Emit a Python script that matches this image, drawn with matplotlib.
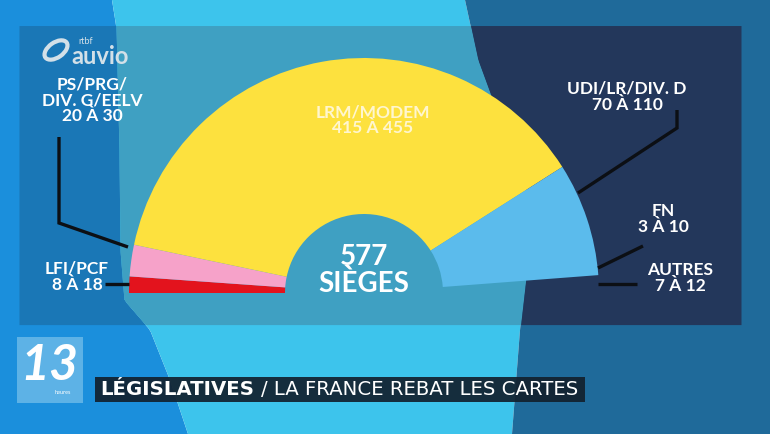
import matplotlib.pyplot as plt
import numpy as np
from matplotlib.patches import Rectangle, Ellipse

parties = ["LFI/PCF", "PS/PRG/\nDIV. G/EELV", "LRM/MODEM", "UDI/LR/DIV. D", "FN", "AUTRES"]
seat_low = [8, 20, 415, 70, 3, 7]
seat_high = [18, 30, 455, 110, 10, 12]
seats_drawn = [13, 25, 435, 90, 6, 8]
colors = ["#e3131d", "#f6a2c9", "#fde13e", "#5bbbec", "none", "none"]
total_seats = 577

W, H = 770, 434


def yy(y):
    # image rows (top-down) -> axes y (bottom-up)
    return H - np.asarray(y)


fig = plt.figure(figsize=(W / 100, H / 100), dpi=100)
ax = fig.add_axes([0, 0, 1, 1])
ax.set_xlim(0, W)
ax.set_ylim(0, H)
ax.axis("off")

# flag-like background bands
ys = np.linspace(0, H, 120)
b1 = np.interp(ys, [0, 25, 150, 250, 300, 330, 380, 434], [112, 116, 119, 120, 124, 150, 170, 188])
b2 = np.interp(ys, [0, 60, 120, 200, 260, 330, 434], [465, 478, 500, 530, 528, 520, 512])
ax.fill_betweenx(yy(ys), 0, b1, color="#1b8fdc", lw=0)
ax.fill_betweenx(yy(ys), b1, b2, color="#3dc4ec", lw=0)
ax.fill_betweenx(yy(ys), b2, W, color="#1f6a9a", lw=0)

# dark panel behind the chart
px0, px1, py0, py1 = 19, 741, 25, 327
m = (ys >= py0) & (ys <= py1)
ax.fill_betweenx(yy(ys[m]), px0, b1[m], color="#1a77b6", lw=0)
ax.fill_betweenx(yy(ys[m]), b1[m], b2[m], color="#3fa0c2", lw=0)
ax.fill_betweenx(yy(ys[m]), b2[m], px1, color="#23375b", lw=0)

# hemicycle: half pie, the other half is hidden
cx, cy, R, r_in = 364, 293, 235, 79
wedges, _ = ax.pie(
    seats_drawn + [total_seats],
    colors=colors + ["none"],
    startangle=180,
    counterclock=False,
    center=(cx, yy(cy)),
    radius=R,
    wedgeprops=dict(width=R - r_in, linewidth=0),
    frame=True,
)
for w, c in zip(wedges, colors + ["none"]):
    if c == "none":
        w.set_visible(False)
ax.set_xlim(0, W)
ax.set_ylim(0, H)
ax.set_aspect("auto")
ax.axis("off")

# leader lines
line_kw = dict(color="#0c0f14", lw=2.4, solid_capstyle="butt", solid_joinstyle="miter")
ax.plot([59, 59, 128], yy([137, 223, 247]), **line_kw)
ax.plot([105, 129], yy([284, 284]), **line_kw)
ax.plot([677, 677, 578], yy([110, 128, 193]), **line_kw)
ax.plot([643, 598], yy([246, 268]), **line_kw)
ax.plot([598, 637], yy([284, 284]), **line_kw)

font = "Lato"
lab_kw = dict(color="white", fontsize=12.5, fontweight="bold", family=font,
              ha="center", va="center", linespacing=1.0)


def label(i, x, y, **kw):
    opts = dict(lab_kw)
    opts.update(kw)
    ax.text(x, yy(y), f"{parties[i]}\n{seat_low[i]} À {seat_high[i]}", **opts)


label(1, 92, 100)
label(0, 77, 277)
label(2, 373, 120, color="#fff6cf")
label(3, 627, 97)
label(4, 663, 219)
label(5, 680, 278)

ax.text(cx, yy(257), str(total_seats), color="white", fontsize=20, fontweight="bold",
        family=font, ha="center", va="center")
ax.text(cx, yy(284), "SIÈGES", color="white", fontsize=20, fontweight="bold",
        family=font, ha="center", va="center")

# auvio logo
ax.add_patch(Ellipse((56, yy(50)), 26, 15, angle=35, fill=False, ec="#d3e0e8", lw=3))
ax.text(78, yy(41), "rtbf", color="#d3e0e8", fontsize=6.5, family=font, va="center")
ax.text(71, yy(56), "auvio", color="#d3e0e8", fontsize=17, fontweight="bold", family=font, va="center")

# "13 heures" box
ax.add_patch(Rectangle((17, yy(403)), 66, 66, color="#5db2e6", lw=0))
ax.text(49, yy(365), "13", color="white", fontsize=36, fontweight="bold", style="italic",
        family=font, ha="center", va="center")
ax.text(63, yy(393), "heures", color="white", fontsize=4, family=font, ha="center", va="center")

# title bar, text fitted to span x = 100..578
gap = 8
ax.add_patch(Rectangle((95, yy(402)), 490, 25, color="#12202e", lw=0, alpha=0.92))
t1 = ax.text(100, yy(389.5), "LÉGISLATIVES", color="white", fontsize=13, fontweight="bold",
             family="DejaVu Sans", va="center")
t2 = ax.text(0, yy(389.5), "/ LA FRANCE REBAT LES CARTES", color="white", fontsize=13,
             family="DejaVu Sans", va="center")
renderer = fig.canvas.get_renderer()
w1 = t1.get_window_extent(renderer).width
w2 = t2.get_window_extent(renderer).width
scale = (578 - 100 - gap) / (w1 + w2)
t1.set_fontsize(13 * scale)
t2.set_fontsize(13 * scale)
t2.set_x(100 + w1 * scale + gap)

fig.savefig("out.png", dpi=100)
